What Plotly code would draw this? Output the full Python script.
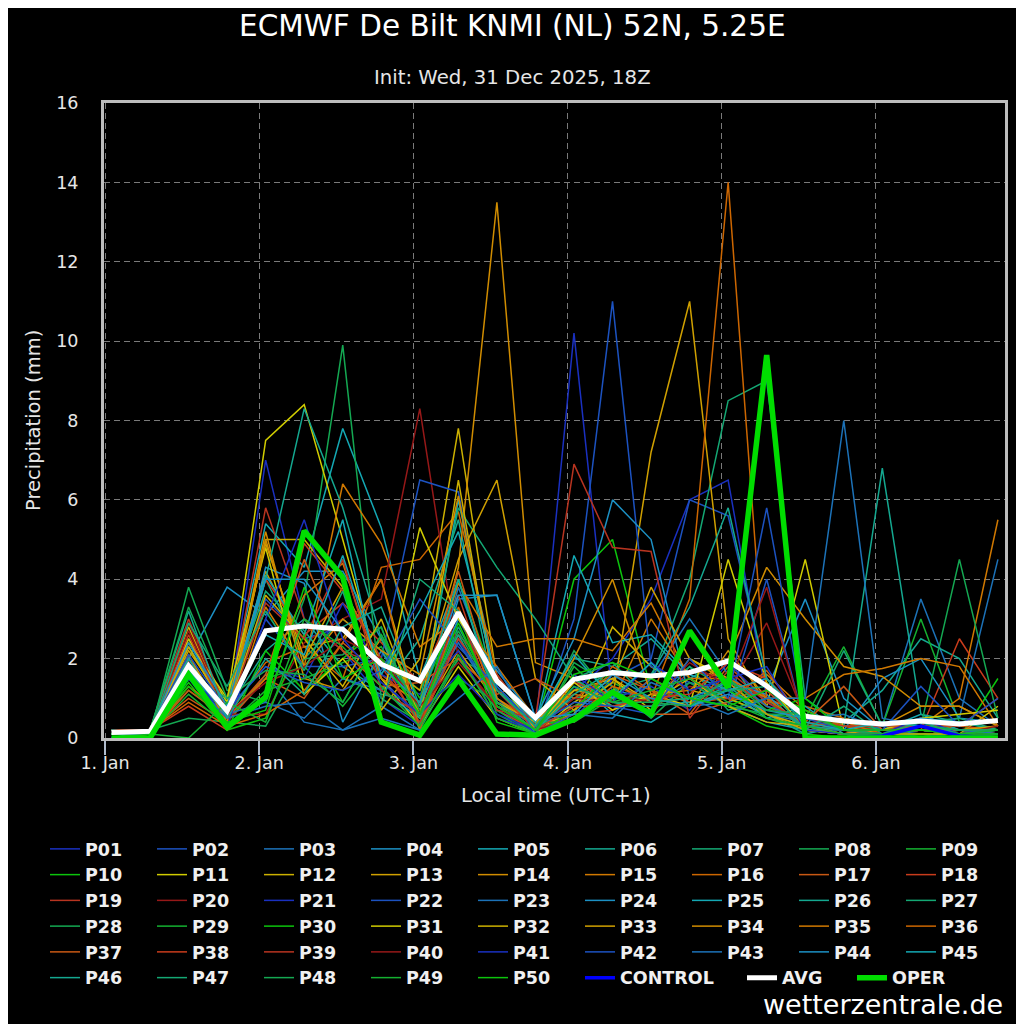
import plotly.graph_objects as go

# 6-hourly steps, local time (UTC+1)
times = [
    "2026-01-01 01:00", "2026-01-01 07:00", "2026-01-01 13:00", "2026-01-01 19:00",
    "2026-01-02 01:00", "2026-01-02 07:00", "2026-01-02 13:00", "2026-01-02 19:00",
    "2026-01-03 01:00", "2026-01-03 07:00", "2026-01-03 13:00", "2026-01-03 19:00",
    "2026-01-04 01:00", "2026-01-04 07:00", "2026-01-04 13:00", "2026-01-04 19:00",
    "2026-01-05 01:00", "2026-01-05 07:00", "2026-01-05 13:00", "2026-01-05 19:00",
    "2026-01-06 01:00", "2026-01-06 07:00", "2026-01-06 13:00", "2026-01-06 19:00",
]
day_ticks = ["2026-01-01", "2026-01-02", "2026-01-03", "2026-01-04", "2026-01-05", "2026-01-06"]
day_labels = ["1. Jan", "2. Jan", "3. Jan", "4. Jan", "5. Jan", "6. Jan"]

# ensemble members (mm per 6h)
p01 = [0.1, 0.2, 1.6, 0.5, 7.0, 3.0, 2.2, 1.0, 0.3, 2.5, 0.8, 0.1, 1.2, 2.0, 3.5, 6.0, 6.5, 1.0, 0.2, 0.1, 0.0, 0.0, 0.0, 0.0]
p02 = [0.1, 0.2, 2.0, 0.6, 3.5, 2.5, 2.8, 1.5, 0.5, 3.0, 1.2, 0.2, 0.5, 1.5, 2.0, 6.0, 5.6, 1.5, 0.3, 0.2, 0.1, 0.3, 0.1, 0.2]
p03 = [0.2, 0.1, 1.8, 0.4, 1.6, 0.4, 0.2, 0.8, 0.2, 3.8, 1.2, 0.5, 1.0, 0.8, 0.8, 1.4, 1.2, 0.6, 0.4, 0.3, 0.3, 3.5, 1.0, 0.3]
p04 = [0.1, 0.2, 2.0, 3.8, 3.1, 4.2, 4.2, 2.5, 0.3, 3.5, 3.6, 0.5, 0.8, 1.2, 1.0, 0.8, 0.9, 1.2, 3.5, 1.0, 0.2, 0.1, 0.0, 0.1]
p05 = [0.1, 0.1, 2.3, 0.8, 5.4, 4.3, 7.8, 5.3, 1.5, 4.0, 0.8, 0.2, 1.5, 0.6, 0.4, 1.0, 0.8, 0.4, 0.2, 0.1, 0.1, 0.2, 0.1, 0.1]
p06 = [0.0, 0.2, 1.5, 0.7, 2.2, 3.0, 1.8, 1.2, 2.5, 5.5, 0.8, 0.4, 2.0, 1.8, 2.5, 1.5, 2.0, 0.6, 0.3, 0.4, 1.2, 2.5, 2.0, 0.5]
p07 = [0.1, 0.1, 2.5, 0.9, 4.0, 2.0, 3.0, 2.2, 0.5, 2.8, 1.0, 0.3, 1.0, 1.2, 1.5, 4.0, 8.5, 9.0, 1.0, 0.3, 0.2, 0.4, 0.2, 0.2]
p08 = [0.1, 0.1, 3.8, 1.2, 0.9, 3.5, 9.9, 1.0, 0.4, 2.0, 1.5, 0.2, 2.2, 1.0, 1.0, 1.8, 1.2, 0.5, 0.2, 0.1, 0.0, 0.1, 0.0, 0.0]
p09 = [0.2, 0.2, 1.2, 0.5, 1.5, 1.8, 0.8, 2.0, 1.2, 3.2, 0.6, 0.1, 0.8, 1.4, 0.9, 1.0, 1.0, 0.6, 0.5, 2.3, 0.3, 3.0, 0.4, 0.2]
p10 = [0.1, 0.1, 1.4, 0.2, 2.2, 1.2, 2.0, 2.8, 0.2, 4.0, 1.3, 0.2, 4.0, 5.0, 1.2, 1.0, 0.8, 0.3, 0.1, 0.0, 0.0, 0.1, 0.0, 1.5]
p11 = [0.1, 0.2, 2.5, 0.9, 7.5, 8.4, 5.0, 1.5, 0.3, 1.8, 0.5, 0.1, 0.9, 1.5, 0.7, 2.0, 1.5, 0.8, 4.5, 0.2, 0.1, 0.2, 0.1, 0.8]
p12 = [0.1, 0.1, 2.8, 0.6, 5.0, 5.0, 3.8, 0.7, 2.0, 7.8, 1.5, 0.3, 0.6, 2.8, 1.8, 1.2, 1.0, 0.6, 0.3, 0.1, 0.0, 0.0, 0.2, 0.1]
p13 = [0.2, 0.2, 2.2, 0.8, 4.2, 2.3, 2.5, 4.0, 0.5, 2.2, 0.9, 0.2, 1.2, 1.0, 7.2, 11.0, 2.5, 0.8, 0.4, 0.2, 0.1, 0.2, 0.1, 0.1]
p14 = [0.1, 0.1, 1.9, 0.5, 5.2, 1.5, 1.2, 2.5, 0.6, 4.3, 13.5, 1.9, 1.5, 0.8, 1.0, 0.8, 2.2, 1.0, 0.2, 0.1, 0.3, 0.8, 0.8, 0.3]
p15 = [0.1, 0.2, 1.6, 0.3, 3.3, 1.8, 6.4, 4.9, 2.3, 3.0, 1.8, 0.5, 1.1, 0.9, 3.0, 1.5, 1.0, 1.6, 0.7, 0.3, 0.1, 0.3, 1.0, 5.5]
p16 = [0.0, 0.1, 1.3, 0.6, 1.9, 2.3, 1.5, 4.3, 4.5, 5.7, 1.6, 0.3, 0.7, 1.8, 1.2, 0.9, 1.0, 0.9, 0.8, 0.5, 0.3, 0.5, 0.2, 0.1]
p17 = [0.1, 0.2, 1.0, 0.4, 1.5, 1.0, 2.4, 1.6, 0.8, 4.2, 1.0, 0.4, 0.4, 1.2, 0.6, 0.6, 1.8, 1.0, 0.6, 0.2, 0.2, 0.4, 0.3, 0.2]
p18 = [0.1, 0.1, 2.6, 0.5, 4.0, 2.6, 3.4, 2.4, 1.4, 3.6, 0.7, 0.2, 0.6, 0.7, 1.5, 0.9, 1.0, 1.2, 0.3, 0.1, 0.3, 0.2, 2.5, 1.0]
p19 = [0.2, 0.2, 3.0, 0.7, 5.8, 3.0, 2.2, 1.8, 0.4, 2.6, 1.6, 0.3, 1.4, 1.1, 0.6, 1.7, 1.5, 0.8, 0.4, 0.3, 0.2, 0.3, 0.2, 0.3]
p20 = [0.1, 0.1, 2.9, 0.6, 0.6, 2.4, 3.0, 3.5, 8.3, 2.0, 0.8, 0.2, 1.0, 0.9, 0.8, 1.3, 1.2, 2.9, 0.5, 0.2, 0.1, 0.2, 0.2, 0.1]
p21 = [0.1, 0.1, 1.5, 0.7, 1.8, 1.5, 3.4, 1.6, 1.1, 2.2, 0.5, 0.2, 10.2, 1.0, 1.3, 0.7, 1.9, 0.9, 0.3, 0.1, 0.0, 0.1, 0.0, 0.1]
p22 = [0.1, 0.2, 1.8, 0.5, 3.0, 1.8, 1.8, 2.0, 6.5, 6.2, 1.0, 0.1, 3.0, 11.0, 1.8, 1.4, 0.8, 4.0, 0.3, 0.2, 0.1, 0.2, 0.1, 0.1]
p23 = [0.1, 0.2, 1.7, 0.6, 0.9, 0.5, 1.5, 1.2, 0.6, 2.4, 0.9, 0.3, 0.7, 0.6, 1.5, 3.0, 1.6, 0.8, 0.5, 0.6, 0.2, 0.3, 0.5, 4.5]
p24 = [0.1, 0.2, 2.0, 0.5, 4.3, 3.9, 0.4, 2.2, 0.8, 3.0, 1.7, 0.5, 2.5, 6.0, 5.0, 1.0, 1.4, 1.1, 0.2, 0.2, 1.5, 2.0, 0.5, 0.4]
p25 = [0.1, 0.1, 1.5, 0.8, 4.1, 2.6, 5.5, 1.2, 0.5, 6.0, 1.3, 0.3, 4.6, 2.4, 2.6, 1.6, 1.2, 0.5, 0.8, 0.1, 0.2, 0.6, 0.2, 0.1]
p26 = [0.2, 0.2, 2.0, 0.6, 4.0, 8.3, 5.8, 2.5, 0.7, 2.6, 0.8, 0.2, 1.3, 0.8, 0.8, 0.9, 1.3, 0.6, 0.1, 0.3, 6.8, 0.6, 0.4, 0.2]
p27 = [0.1, 0.1, 1.6, 1.0, 3.7, 2.7, 1.5, 1.1, 0.9, 5.8, 4.3, 3.0, 1.5, 0.9, 0.7, 1.8, 0.7, 1.0, 0.2, 2.2, 0.3, 0.4, 0.5, 0.2]
p28 = [0.1, 0.2, 0.5, 0.4, 0.3, 2.0, 2.1, 2.8, 0.2, 2.0, 0.7, 0.1, 1.9, 1.3, 0.5, 1.4, 0.8, 0.6, 0.6, 0.4, 0.2, 0.3, 4.5, 0.5]
p29 = [0.0, 0.1, 1.1, 0.3, 1.2, 1.5, 1.9, 2.3, 0.7, 1.5, 0.9, 0.4, 0.4, 1.0, 1.0, 0.8, 1.5, 0.5, 0.3, 0.2, 0.1, 0.2, 0.1, 0.3]
p30 = [0.1, 0.2, 1.8, 0.2, 0.5, 2.6, 0.9, 2.6, 1.0, 3.2, 0.4, 0.1, 0.7, 1.7, 1.5, 1.0, 1.2, 0.7, 1.0, 0.2, 0.1, 0.1, 0.1, 0.2]
p31 = [0.1, 0.1, 2.4, 1.0, 4.8, 1.1, 2.0, 0.8, 5.3, 3.0, 1.5, 0.2, 1.4, 0.7, 1.1, 0.8, 4.5, 1.4, 0.2, 0.1, 0.2, 0.5, 0.6, 0.7]
p32 = [0.2, 0.2, 2.3, 0.6, 3.6, 2.5, 1.3, 3.0, 0.5, 6.5, 0.9, 0.4, 1.2, 1.5, 0.9, 1.5, 0.8, 0.4, 0.3, 0.1, 0.1, 0.1, 0.1, 0.1]
p33 = [0.1, 0.1, 1.9, 0.7, 4.9, 2.0, 3.8, 1.9, 1.2, 4.5, 6.5, 1.5, 0.7, 1.4, 3.8, 2.0, 1.4, 0.6, 0.2, 0.1, 0.2, 0.2, 0.2, 0.3]
p34 = [0.1, 0.2, 2.1, 0.4, 5.0, 1.8, 3.0, 2.2, 1.6, 6.1, 1.0, 0.3, 2.0, 4.0, 1.1, 1.2, 2.0, 4.3, 3.0, 1.8, 1.55, 0.8, 0.8, 0.3]
p35 = [0.1, 0.1, 1.7, 0.6, 1.5, 3.6, 4.4, 1.5, 0.9, 3.9, 2.3, 2.5, 2.5, 2.2, 3.4, 1.5, 1.5, 1.0, 1.0, 1.6, 1.75, 2.0, 1.8, 0.3]
p36 = [0.1, 0.2, 0.9, 0.3, 0.6, 1.2, 2.4, 4.0, 0.2, 3.3, 0.9, 0.2, 0.5, 1.3, 1.0, 3.5, 14.0, 1.0, 0.3, 0.4, 0.1, 0.2, 0.1, 0.1]
p37 = [0.0, 0.1, 1.2, 0.5, 1.6, 4.5, 2.2, 1.3, 1.4, 2.0, 1.1, 1.5, 1.0, 1.6, 1.2, 0.6, 0.9, 1.7, 0.4, 1.3, 0.2, 0.3, 0.2, 0.2]
p38 = [0.1, 0.2, 0.8, 0.2, 1.1, 4.9, 3.7, 2.0, 0.3, 2.5, 1.2, 0.2, 0.8, 0.8, 1.0, 1.1, 1.9, 1.5, 0.5, 0.3, 0.3, 0.3, 0.3, 1.0]
p39 = [0.1, 0.1, 1.9, 0.6, 3.4, 2.5, 4.5, 1.2, 0.6, 3.2, 0.7, 0.5, 6.9, 4.8, 4.7, 0.5, 1.7, 0.9, 0.4, 0.2, 0.1, 0.2, 0.1, 0.1]
p40 = [0.2, 0.2, 2.7, 0.6, 1.4, 1.8, 2.5, 2.0, 0.8, 1.9, 0.8, 0.2, 0.5, 1.1, 0.9, 1.9, 1.3, 3.8, 0.3, 0.2, 0.1, 0.2, 0.1, 0.3]
p41 = [0.1, 0.1, 1.9, 0.3, 3.0, 5.5, 2.5, 1.4, 0.6, 1.6, 0.6, 0.2, 1.6, 0.9, 1.9, 1.2, 1.5, 1.8, 0.2, 0.1, 0.1, 0.5, 0.1, 0.1]
p42 = [0.1, 0.2, 2.1, 0.7, 1.8, 1.4, 1.2, 1.7, 3.5, 2.3, 1.3, 0.3, 0.9, 0.8, 0.6, 2.0, 1.0, 5.8, 0.5, 0.2, 0.2, 1.3, 0.3, 1.0]
p43 = [0.1, 0.1, 1.5, 0.5, 0.8, 0.9, 0.2, 0.5, 0.2, 1.0, 1.8, 0.1, 0.6, 0.5, 1.4, 1.0, 0.6, 1.0, 1.0, 8.0, 0.5, 0.3, 0.2, 0.1]
p44 = [0.1, 0.2, 2.4, 0.8, 4.0, 4.0, 2.7, 1.8, 0.9, 3.6, 3.6, 0.5, 0.6, 1.6, 1.0, 0.8, 1.1, 0.7, 0.5, 0.4, 0.3, 0.5, 0.4, 0.4]
p45 = [0.2, 0.1, 1.7, 0.6, 2.6, 2.1, 4.6, 1.6, 3.2, 5.2, 1.4, 0.4, 2.1, 1.0, 1.9, 0.8, 1.2, 1.5, 0.4, 0.2, 0.4, 0.3, 0.2, 0.2]
p46 = [0.1, 0.2, 3.2, 0.5, 2.0, 1.1, 2.8, 3.3, 0.8, 4.0, 0.9, 0.2, 1.1, 1.7, 1.6, 3.3, 5.8, 1.5, 0.3, 0.2, 0.1, 0.2, 0.1, 0.2]
p47 = [0.1, 0.1, 2.9, 1.3, 3.2, 1.7, 3.7, 0.8, 4.0, 3.2, 1.2, 0.3, 1.5, 1.9, 0.9, 1.0, 1.2, 1.3, 0.2, 0.8, 0.1, 0.4, 0.1, 0.2]
p48 = [0.1, 0.2, 3.3, 1.0, 1.7, 1.6, 0.9, 2.6, 0.5, 2.7, 0.9, 0.2, 1.3, 0.9, 0.9, 0.8, 1.5, 0.7, 0.6, 0.2, 0.1, 0.3, 0.2, 0.2]
p49 = [0.0, 0.1, 0.0, 0.9, 0.4, 3.0, 2.3, 1.3, 0.3, 2.1, 0.5, 0.1, 1.8, 0.9, 1.2, 1.5, 0.9, 0.5, 0.3, 0.1, 0.1, 0.2, 0.1, 0.2]
p50 = [0.1, 0.2, 1.3, 0.4, 0.7, 3.8, 1.5, 2.0, 0.6, 2.9, 0.8, 0.2, 1.6, 1.9, 1.5, 1.0, 0.8, 1.2, 0.7, 0.2, 0.2, 0.2, 0.1, 0.1]

control = [0.0, 0.0, 1.55, 0.27, 1.0, 5.2, 4.05, 0.4, 0.07, 1.45, 0.1, 0.07, 0.47, 1.15, 0.6, 2.7, 1.25, 9.6, 0.0, 0.0, 0.05, 0.3, 0.05, 0.0]
avg = [0.14, 0.17, 1.82, 0.68, 2.7, 2.82, 2.74, 1.86, 1.44, 3.16, 1.44, 0.51, 1.48, 1.65, 1.56, 1.65, 1.94, 1.31, 0.55, 0.43, 0.35, 0.43, 0.35, 0.44]
oper = [0.0, 0.0, 1.6, 0.27, 1.03, 5.22, 4.05, 0.4, 0.07, 1.48, 0.1, 0.07, 0.47, 1.15, 0.6, 2.7, 1.27, 9.65, 0.0, 0.0, 0.0, 0.0, 0.0, 0.0]

members = [
    p01, p02, p03, p04, p05, p06, p07, p08, p09, p10,
    p11, p12, p13, p14, p15, p16, p17, p18, p19, p20,
    p21, p22, p23, p24, p25, p26, p27, p28, p29, p30,
    p31, p32, p33, p34, p35, p36, p37, p38, p39, p40,
    p41, p42, p43, p44, p45, p46, p47, p48, p49, p50,
]

# member colours repeat every 20 members
palette = [
    "#1a30c0", "#1c52c0", "#1c72b8", "#1c90c4", "#14a8b4",
    "#14a890", "#14a874", "#14a852", "#14b030", "#0cc40c",
    "#d0cc00", "#ccb000", "#d0a000", "#d08c00", "#d07800",
    "#cc6600", "#c85814", "#c83c1c", "#b83420", "#961818",
]

FONT = "DejaVu Sans"
TXT = "#e6e6e6"
LEG_FONT = dict(family=FONT, size=17.5, color="#f0f0f0", weight="bold")

# the page puts the figure 8 px in from the top-left corner; positions below are page pixels
OFF = 8
PL, PR, PT, PB = 104, 1005, 103, 738  # plot area on the page
L, T = PL - OFF, PT - OFF
R, B = 1024 - (PR - OFF), 1024 - (PB - OFF)
pw, ph = PR - PL, PB - PT


def px_x(x):
    return (x - PL) / pw


def px_y(y):
    return (PB - y) / ph


fig = go.Figure()
for i, vals in enumerate(members):
    fig.add_trace(go.Scatter(
        x=times, y=vals, mode="lines", name=f"P{i + 1:02d}",
        line=dict(color=palette[i % 20], width=1.5),
    ))
fig.add_trace(go.Scatter(x=times, y=control, mode="lines", name="CONTROL",
                         line=dict(color="#0000ff", width=3.5), legend="legend2"))
fig.add_trace(go.Scatter(x=times, y=avg, mode="lines", name="AVG",
                         line=dict(color="#ffffff", width=5), legend="legend3"))
fig.add_trace(go.Scatter(x=times, y=oper, mode="lines", name="OPER",
                         line=dict(color="#00dd00", width=5.5), legend="legend4"))

LEG_TOP = 831
ROW6_TOP = LEG_TOP + 5 * 25.75


def small_legend(left):
    return dict(orientation="h", x=px_x(left), xanchor="left", y=px_y(ROW6_TOP), yanchor="top",
                bgcolor="rgba(0,0,0,0)", font=LEG_FONT)


axis_common = dict(
    showline=True, linecolor="#bdbdbd", linewidth=3, mirror=True,
    showgrid=True, gridcolor="#7a7a7a", gridwidth=1, griddash="6px,4px",
    zeroline=False, tickfont=dict(family=FONT, size=17.5, color=TXT),
)

fig.update_layout(
    width=1024, height=1024,
    paper_bgcolor="#000000", plot_bgcolor="#000000",
    margin=dict(l=L, r=R, t=T, b=B, autoexpand=False),
    font=dict(family=FONT, color=TXT),
    showlegend=True,
    legend=dict(
        orientation="h", x=px_x(45), xanchor="left", y=px_y(LEG_TOP), yanchor="top",
        entrywidth=62, entrywidthmode="pixels", bgcolor="rgba(0,0,0,0)",
        font=LEG_FONT, tracegroupgap=0,
    ),
    legend2=small_legend(580),
    legend3=small_legend(742),
    legend4=small_legend(852),
    xaxis=dict(
        type="date", range=["2025-12-31 23:50", "2026-01-06 20:06"],
        tickvals=day_ticks, ticktext=day_labels,
        ticks="outside", ticklen=14, tickwidth=1.5, tickcolor="#b0bccc",
        ticklabelstandoff=-7, **axis_common,
    ),
    yaxis=dict(
        range=[0, 16], dtick=2, ticks="", ticklabelstandoff=19,
        **axis_common,
    ),
    annotations=[
        dict(text="ECMWF De Bilt KNMI (NL) 52N, 5.25E", x=px_x(512), y=px_y(26),
             xref="paper", yref="paper", showarrow=False, xanchor="center", yanchor="middle",
             font=dict(family=FONT, size=29.5, color="#ffffff")),
        dict(text="Init: Wed, 31 Dec 2025, 18Z", x=px_x(512), y=px_y(77),
             xref="paper", yref="paper", showarrow=False, xanchor="center", yanchor="middle",
             font=dict(family=FONT, size=19.7, color=TXT)),
        dict(text="Precipitation (mm)", x=px_x(33), y=px_y(421), textangle=-90,
             xref="paper", yref="paper", showarrow=False, xanchor="center", yanchor="middle",
             font=dict(family=FONT, size=19.5, color=TXT)),
        dict(text="Local time (UTC+1)", x=px_x(556), y=px_y(795),
             xref="paper", yref="paper", showarrow=False, xanchor="center", yanchor="middle",
             font=dict(family=FONT, size=19.5, color=TXT)),
        dict(text="wetterzentrale.de", x=px_x(1005), y=px_y(1004),
             xref="paper", yref="paper", showarrow=False, xanchor="right", yanchor="middle",
             font=dict(family=FONT, size=27, color="#ffffff")),
    ],
)

fig.write_html("out.html")
